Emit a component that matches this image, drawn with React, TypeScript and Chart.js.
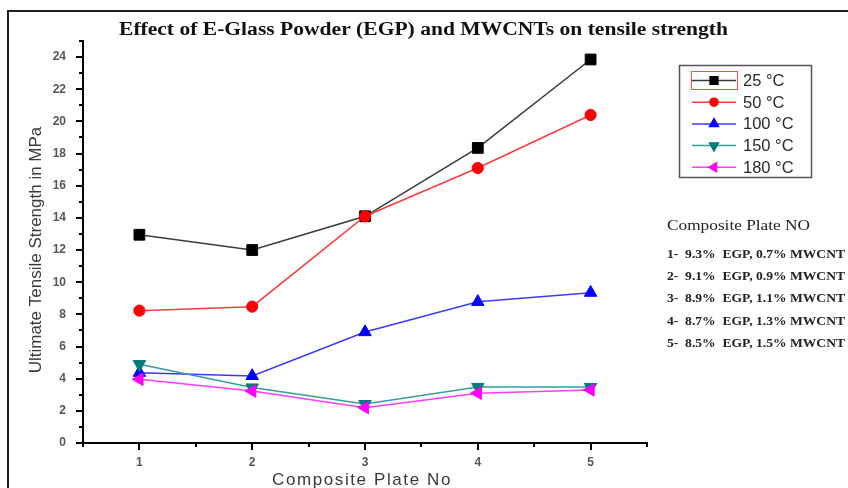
import React, { useEffect, useRef } from 'react';
import { Chart, registerables } from 'chart.js';
import { drawPoint } from 'chart.js/helpers';

Chart.register(...registerables);

const titleText = 'Effect of E-Glass Powder (EGP) and MWCNTs on tensile strength';
const xTitle = 'Composite Plate No';
const yTitle = 'Ultimate Tensile Strength in MPa';

const plates = [1, 2, 3, 4, 5];
const seriesLabels = ['25 °C', '50 °C', '100 °C', '150 °C', '180 °C'];
const s25 = [12.95, 12.0, 14.1, 18.35, 23.85];
const s50 = [8.23, 8.48, 14.1, 17.1, 20.4];
const s100 = [4.37, 4.17, 6.9, 8.78, 9.35];
const s150 = [4.9, 3.45, 2.42, 3.48, 3.48];
const s180 = [3.96, 3.23, 2.2, 3.1, 3.3];

const yTicks = [0, 2, 4, 6, 8, 10, 12, 14, 16, 18, 20, 22, 24];
const yMinorTicks = [1, 3, 5, 7, 9, 11, 13, 15, 17, 19, 21, 23, 25];
const xTicks = [1, 2, 3, 4, 5];
const xMinorTicks = [0.5, 1.5, 2.5, 3.5, 4.5, 5.5];

const compositionHeader = 'Composite Plate NO';
const compositionLines = [
  '1-  9.3%  EGP, 0.7% MWCNT',
  '2-  9.1%  EGP, 0.9% MWCNT',
  '3-  8.9%  EGP, 1.1% MWCNT',
  '4-  8.7%  EGP, 1.3% MWCNT',
  '5-  8.5%  EGP, 1.5% MWCNT',
];

const seriesValues = [s25, s50, s100, s150, s180];
const lineColors = ['#3a3a3a', '#ff3b3b', '#3a3aff', '#3a9c9c', '#ff3cff'];
const markerColors = ['#000000', '#ff0000', '#0000ff', '#007b7b', '#ff00ff'];
const markerStyles = ['rect', 'circle', 'triangle', 'triangle', 'triangle'];
const markerRotations = [0, 0, 0, 180, -90];
const markerRadii = [7.6, 5.6, 7.2, 7.2, 7.2];

const overlayPlugin = {
  id: 'overlay',
  afterDraw(chart: any) {
    const ctx = chart.ctx as CanvasRenderingContext2D;
    const xs = chart.scales.x;
    const ys = chart.scales.y;
    const area = chart.chartArea;

    // outer frame
    ctx.save();
    ctx.strokeStyle = '#1e1e1e';
    ctx.lineWidth = 2;
    ctx.beginPath();
    ctx.moveTo(8, 700);
    ctx.lineTo(8, 11);
    ctx.lineTo(900, 11);
    ctx.stroke();
    ctx.restore();

    // minor ticks
    ctx.save();
    ctx.strokeStyle = '#000';
    ctx.lineWidth = 2;
    ctx.beginPath();
    yMinorTicks.forEach((v) => {
      const py = Math.round(ys.getPixelForValue(v));
      ctx.moveTo(area.left - 4, py);
      ctx.lineTo(area.left, py);
    });
    xMinorTicks.forEach((v) => {
      const px = Math.round(xs.getPixelForValue(v));
      ctx.moveTo(px, area.bottom);
      ctx.lineTo(px, area.bottom + 4);
    });
    ctx.stroke();
    ctx.restore();

    // title
    ctx.save();
    ctx.fillStyle = '#111';
    ctx.font = 'bold 18px "Liberation Serif"';
    ctx.textBaseline = 'middle';
    ctx.textAlign = 'left';
    const tw = ctx.measureText(titleText).width;
    ctx.translate(119, 30);
    ctx.scale(609 / tw, 1);
    ctx.fillText(titleText, 0, 0);
    ctx.restore();

    // y title
    ctx.save();
    ctx.fillStyle = '#3a3a3a';
    ctx.font = '17px "Liberation Sans"';
    ctx.textAlign = 'center';
    ctx.textBaseline = 'middle';
    ctx.translate(36, 250);
    ctx.rotate(-Math.PI / 2);
    ctx.fillText(yTitle, 0, 0);
    ctx.restore();

    // x title
    ctx.save();
    ctx.fillStyle = '#3a3a3a';
    ctx.font = '17px "Liberation Sans"';
    (ctx as any).letterSpacing = '1.6px';
    ctx.textAlign = 'left';
    ctx.textBaseline = 'middle';
    const xw = ctx.measureText(xTitle).width;
    ctx.fillText(xTitle, 362 - xw / 2, 480);
    ctx.restore();

    // legend
    ctx.save();
    ctx.strokeStyle = '#555';
    ctx.lineWidth = 1.5;
    ctx.strokeRect(679.5, 65.5, 132, 112);
    ctx.strokeStyle = '#ff4a4a';
    ctx.lineWidth = 1;
    ctx.strokeRect(691.5, 71.5, 46, 18);
    chart.data.datasets.forEach((ds: any, i: number) => {
      const y = 80.5 + i * 21.7;
      ctx.strokeStyle = ds.borderColor;
      ctx.lineWidth = 1.5;
      ctx.beginPath();
      ctx.moveTo(692, y);
      ctx.lineTo(736, y);
      ctx.stroke();
      ctx.fillStyle = ds.pointBackgroundColor;
      ctx.strokeStyle = ds.pointBorderColor;
      drawPoint(ctx, {
        pointStyle: ds.pointStyle,
        radius: ds.pointRadius * 0.72,
        rotation: ds.pointRotation,
        borderWidth: 1,
      } as any, 714, y);
      ctx.fillStyle = '#2a2a2a';
      ctx.font = '16.5px "Liberation Sans"';
      ctx.textAlign = 'left';
      ctx.textBaseline = 'middle';
      ctx.fillText(ds.label, 743, y + 1);
    });
    ctx.restore();

    // composition text
    ctx.save();
    ctx.fillStyle = '#222';
    ctx.textBaseline = 'middle';
    ctx.textAlign = 'left';
    ctx.font = '15px "Liberation Serif"';
    const hw = ctx.measureText(compositionHeader).width;
    ctx.save();
    ctx.translate(667, 226);
    ctx.scale(143 / hw, 1);
    ctx.fillText(compositionHeader, 0, 0);
    ctx.restore();
    ctx.font = 'bold 11.5px "Liberation Serif"';
    compositionLines.forEach((line, i) => {
      const lw = ctx.measureText(line).width;
      ctx.save();
      ctx.translate(667, 255 + i * 22.2);
      ctx.scale(178 / lw, 1);
      ctx.fillText(line, 0, 0);
      ctx.restore();
    });
    ctx.restore();
  },
};

export default function App() {
  const canvasRef = useRef<HTMLCanvasElement | null>(null);

  useEffect(() => {
    document.body.style.margin = '0';
    const canvas = canvasRef.current;
    if (!canvas) return;
    const datasets = seriesLabels.map((label, i) => ({
      label,
      data: plates.map((p, j) => ({ x: p, y: seriesValues[i][j] })),
      borderColor: lineColors[i],
      borderWidth: 1.5,
      backgroundColor: markerColors[i],
      pointStyle: markerStyles[i],
      pointRotation: markerRotations[i],
      pointRadius: markerRadii[i],
      pointBackgroundColor: markerColors[i],
      pointBorderColor: markerColors[i],
      pointBorderWidth: 1,
      tension: 0,
      fill: false,
      order: seriesLabels.length - i,
    }));

    const chart = new Chart(canvas, {
      type: 'line',
      data: { datasets } as any,
      options: {
        animation: false,
        responsive: false,
        devicePixelRatio: 1,
        layout: { padding: { left: 0, top: 41, right: 201, bottom: 0 } },
        plugins: {
          legend: { display: false },
          title: { display: false },
          tooltip: { enabled: false },
        },
        scales: {
          x: {
            type: 'linear',
            min: 0.5,
            max: 5.5,
            afterBuildTicks: (scale: any) => {
              scale.ticks = xTicks.map((v) => ({ value: v }));
            },
            afterFit: (scale: any) => {
              scale.height = 45;
            },
            grid: {
              drawOnChartArea: false,
              drawTicks: true,
              tickLength: 7,
              color: '#000',
              lineWidth: 2,
            },
            border: { display: true, color: '#000', width: 2 },
            ticks: {
              padding: 5,
              color: '#555',
              font: { family: 'Liberation Sans', size: 12, weight: 'bold' },
              callback: (v: any) => String(v),
            },
          },
          y: {
            type: 'linear',
            min: 0,
            max: 25,
            afterBuildTicks: (scale: any) => {
              scale.ticks = yTicks.map((v) => ({ value: v }));
            },
            afterFit: (scale: any) => {
              scale.width = 83;
            },
            grid: {
              drawOnChartArea: false,
              drawTicks: true,
              tickLength: 7,
              color: '#000',
              lineWidth: 2,
            },
            border: { display: true, color: '#000', width: 2 },
            ticks: {
              padding: 10,
              color: '#555',
              font: { family: 'Liberation Sans', size: 12, weight: 'bold' },
              callback: (v: any) => String(v),
            },
          },
        },
      } as any,
      plugins: [overlayPlugin],
    });
    return () => chart.destroy();
  }, []);

  return (
    <div style={{ position: 'absolute', left: 0, top: 0, width: 848, height: 488, background: '#fff' }}>
      <canvas ref={canvasRef} width={848} height={488} />
    </div>
  );
}
